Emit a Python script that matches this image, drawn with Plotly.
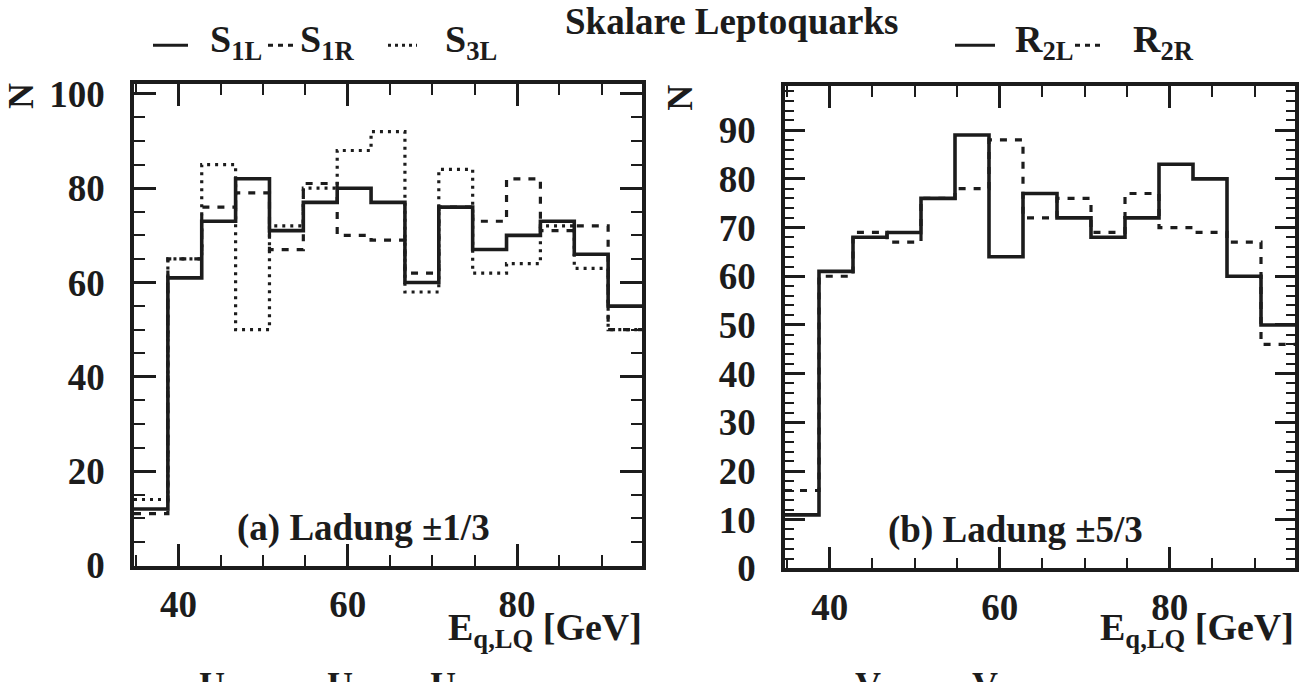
import plotly.graph_objects as go

# Energy bins (GeV): 15 bins of width 4
bin_start = 34.75
bin_width = 4.0
n_bins = 15
edges = [bin_start + bin_width * i for i in range(n_bins + 1)]

# Charge 1/3 scalar leptoquarks
s1l = [12, 61, 73, 82, 71, 77, 80, 77, 60, 76, 67, 70, 73, 66, 55]
s1r = [11, 65, 76, 79, 67, 81, 70, 69, 62, 76, 73, 82, 71, 72, 50]
s3l = [14, 65, 85, 50, 72, 80, 88, 92, 58, 84, 62, 64, 72, 63, 50]

# Charge 5/3 scalar leptoquarks
r2l = [11, 61, 68, 69, 76, 89, 64, 77, 72, 68, 72, 83, 80, 60, 50]
r2r = [16, 60, 69, 67, 76, 78, 88, 72, 76, 69, 77, 70, 69, 67, 46]

x_tick_vals = [40, 60, 80]
left_y_ticks = [0, 20, 40, 60, 80, 100]
right_y_ticks = [0, 10, 20, 30, 40, 50, 60, 70, 80, 90]

INK = "#1c1c1c"
FONT = "Liberation Serif"
W, H = 1301, 682


def px(x):
    return x / W


def py(y):
    return 1 - y / H


def step(values):
    return values + [values[-1]]


fig = go.Figure()

styles = {"solid": dict(width=3.6), "dash": dict(width=3.2, dash="7px,8px"),
          "dot": dict(width=3.2, dash="3px,5px")}

for vals, st in [(s3l, "dot"), (s1r, "dash"), (s1l, "solid")]:
    fig.add_trace(go.Scatter(x=edges, y=step(vals), mode="lines", line_shape="hv",
                             line=dict(color=INK, **styles[st]), xaxis="x", yaxis="y",
                             showlegend=False, hoverinfo="skip"))
for vals, st in [(r2r, "dash"), (r2l, "solid")]:
    fig.add_trace(go.Scatter(x=edges, y=step(vals), mode="lines", line_shape="hv",
                             line=dict(color=INK, **styles[st]), xaxis="x2", yaxis="y2",
                             showlegend=False, hoverinfo="skip"))

tickfont = dict(family=FONT, size=37, color=INK, weight="bold")

xcommon = dict(range=[edges[0], edges[-1]], tickvals=x_tick_vals, ticks="inside",
               ticklen=22, tickwidth=2.5, tickcolor=INK, showline=True, linewidth=3.5,
               linecolor=INK, mirror="allticks", showgrid=False, zeroline=False,
               tickfont=tickfont, ticklabelstandoff=3,
               minor=dict(dtick=5, tick0=0, ticks="inside", ticklen=11, tickwidth=2,
                          tickcolor=INK, showgrid=False))

fig.update_layout(
    width=W, height=H, margin=dict(l=0, r=0, t=0, b=0),
    paper_bgcolor="white", plot_bgcolor="white",
    xaxis=dict(domain=[px(134), px(642)], anchor="y", **xcommon),
    yaxis=dict(domain=[py(582), py(78)], anchor="x", range=[0, 102],
               tickvals=left_y_ticks, ticks="inside", ticklen=22, tickwidth=2.5,
               tickcolor=INK, showline=True, linewidth=3.5, linecolor=INK,
               mirror="allticks", showgrid=False, zeroline=False, tickfont=tickfont,
               ticklabelstandoff=18,
               minor=dict(dtick=5, tick0=0, ticks="inside", ticklen=11, tickwidth=2,
                          tickcolor=INK, showgrid=False)),
    xaxis2=dict(domain=[px(785), px(1295)], anchor="y2", **xcommon),
    yaxis2=dict(domain=[py(585), py(80)], anchor="x2", range=[0, 99],
                tickvals=right_y_ticks, ticks="inside", ticklen=20, tickwidth=2.5,
                tickcolor=INK, showline=True, linewidth=3.5, linecolor=INK,
                mirror="allticks", showgrid=False, zeroline=False, tickfont=tickfont,
                ticklabelstandoff=18,
                minor=dict(dtick=2, tick0=0, ticks="inside", ticklen=9, tickwidth=2,
                           tickcolor=INK, showgrid=False)),
)

ann = []


def text(x, y, s, size=34, xanchor="center", yanchor="middle", angle=0):
    ann.append(dict(x=px(x), y=py(y), xref="paper", yref="paper", text=s,
                    showarrow=False, xanchor=xanchor, yanchor=yanchor, textangle=angle,
                    font=dict(family=FONT, size=size, color=INK, weight="bold")))


# Title and legends
text(731, 12, "Skalare Leptoquarks", size=37)
text(208, 34, "S<sub>1L</sub>", size=38, xanchor="left")
text(298, 34, "S<sub>1R</sub>", size=38, xanchor="left")
text(443, 34, "S<sub>3L</sub>", size=38, xanchor="left")
text(1013, 34, "R<sub>2L</sub>", size=38, xanchor="left")
text(1131, 34, "R<sub>2R</sub>", size=38, xanchor="left")

# Axis titles
text(21, 90, "N", size=36, angle=-90)
text(680, 92, "N", size=36, angle=-90)
text(644, 649, "E<sub>q,LQ</sub> [GeV]", size=38, xanchor="right")
text(1296, 649, "E<sub>q,LQ</sub> [GeV]", size=38, xanchor="right")

# Panel labels
text(364, 543, "(a) Ladung ±1/3", size=37)
text(1015, 545, "(b) Ladung ±5/3", size=37)

# Caption glyphs continuing below the figure edge
for xc, ch in [(212, "U"), (340, "U"), (443, "U"), (868, "V"), (985, "V")]:
    text(xc, 684, ch, size=36, yanchor="top")

fig.update_layout(annotations=ann)

# Legend line samples
samples = [(153, 188, "solid"), (268, 297, "dash"), (388, 417, "dot"),
           (955, 995, "solid"), (1075, 1102, "dash")]
shapes = []
for x0, x1, st in samples:
    d = {"solid": "solid", "dash": "5px,5px", "dot": "3px,4px"}[st]
    shapes.append(dict(type="line", xref="paper", yref="paper", x0=px(x0), x1=px(x1),
                       y0=py(37), y1=py(37), line=dict(color=INK, width=3, dash=d)))
fig.update_layout(shapes=shapes)

fig.write_html("out.html")
